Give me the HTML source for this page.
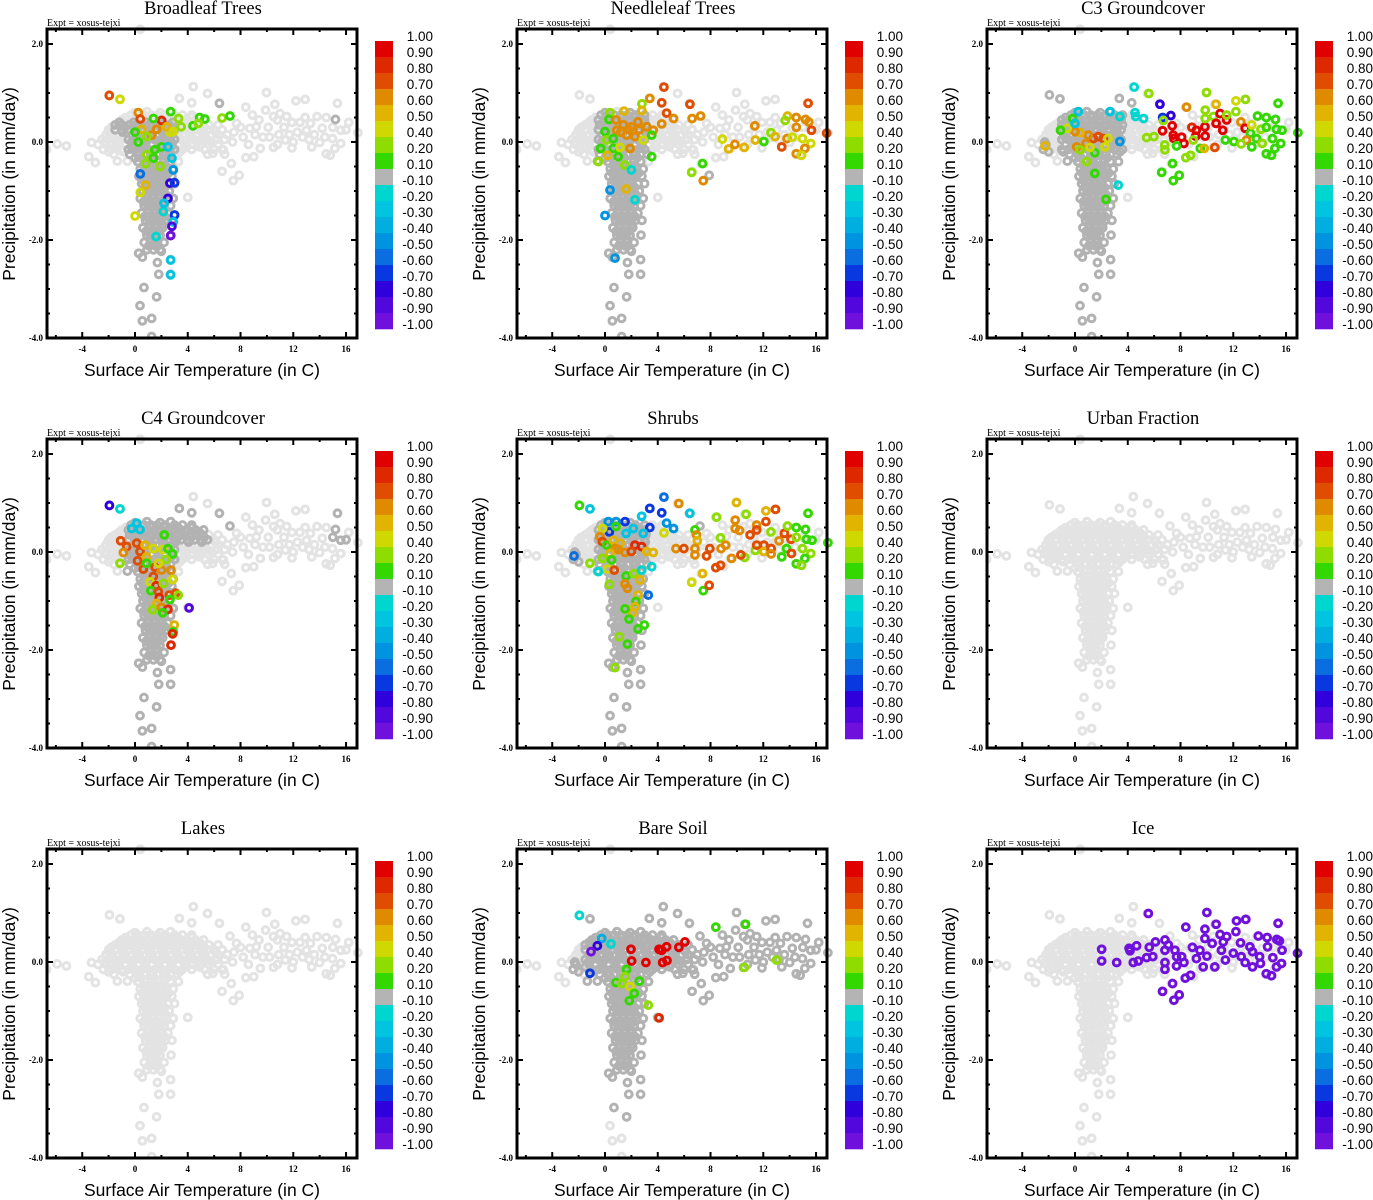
<!DOCTYPE html>
<html><head><meta charset="utf-8">
<style>
html,body{margin:0;padding:0;background:#fff;}
body{width:1373px;height:1200px;overflow:hidden;position:relative;}
svg{position:absolute;left:0;top:0;}
</style></head>
<body>
<svg id="fig" width="1373" height="1200" xmlns="http://www.w3.org/2000/svg"></svg>
<script>
// ---------- DATA ----------
const panelTitles = ["Broadleaf Trees","Needleleaf Trees","C3 Groundcover","C4 Groundcover","Shrubs","Urban Fraction","Lakes","Bare Soil","Ice"];
const xTicks = [-4,0,4,8,12,16];
const yTicks = [2.0,0.0,-2.0,-4.0];
const cbLabels = ["1.00","0.90","0.80","0.70","0.60","0.50","0.40","0.20","0.10","-0.10","-0.20","-0.30","-0.40","-0.50","-0.60","-0.70","-0.80","-0.90","-1.00"];
const cbEdges = [1.0,0.9,0.8,0.7,0.6,0.5,0.4,0.2,0.1,-0.1,-0.2,-0.3,-0.4,-0.5,-0.6,-0.7,-0.8,-0.9,-1.0];
const cbColors = ["#e00000","#de2800","#e04c00","#e08a00","#e0b400","#cfd800","#8edc00","#33d800","#b4b4b4","#00d6d0","#00c4e0","#00aee0","#0094e0","#0a6ee0","#0a38e0","#3000dc","#5208dc","#7010dc"];

// shared cloud of background points [x,y]
const cloudPts = [
[-1.94,0.96],[-1.14,0.88],[4.42,1.13],[5.5,0.99],[9.97,1.01],[12.2,0.84],[12.9,0.87],[15.35,0.79],[3.36,0.89],[4.3,0.8],[6.4,0.79],[8.4,0.71],[10.6,0.77],
[-5.9,-0.04],[-5.2,-0.08],[-6.7,-0.15],[-3.3,-0.01],[-3.5,-0.3],[-3.0,-0.42],[-1.34,-0.39],[-0.58,-0.39],[6.6,-0.6],[7.45,-0.79],[7.9,-0.68],[4.0,-1.13],
[2.73,-1.9],[2.7,-2.4],[2.7,-2.7],[1.8,-2.7],[1.7,-2.46],[0.68,-2.97],[1.64,-3.16],[0.38,-3.34],[0.56,-3.65],[1.26,-3.6],[1.26,-3.97],[0.28,-2.27],[0.56,-2.35],[2.0,-2.23],[0.4,2.3],
[13.8,0.52],[14.5,0.5],[15.2,0.46],[15.6,0.24],[14.97,0.07],[15.6,-0.03],[15.15,-0.13],[14.5,-0.24],[14.8,-0.27],[13.4,-0.1],[14.0,-0.01],[12.0,0.0],[11.4,0.04],[12.5,0.4],[13.0,0.24],[11.5,0.52],[11.0,0.58],[10.5,0.52],[9.9,0.65],[9.2,0.31],[8.7,0.28],[9.5,-0.13],[10.5,-0.11],[9.0,-0.3],[8.4,-0.32],[7.3,-0.44],[9.7,0.1],[6.7,-0.16],[5.9,-0.23],[7.7,0.38],[7.2,0.53],[16.9,0.19],[12.3,0.2],[10.1,0.3],[11.9,0.4],[14.2,0.28],[13.3,0.38],[8.2,0.1],[7.4,0.0],[10.9,0.15],
[10.8,0.45],[11.3,0.3],[11.7,0.15],[12.7,0.1],[13.6,0.15],[14.4,0.1],[12.9,0.5],[13.2,0.05],[10.2,0.1],[9.4,0.45],[8.9,0.55],[8.0,0.3],[7.5,0.2],[8.6,-0.05],[9.1,0.15],[10.8,-0.05],[11.9,-0.12],[15.0,0.3],[16.2,0.4],[16.0,0.25],
[-0.3,0.55],[0.2,0.55],[0.7,0.55],[1.2,0.55],[1.7,0.55],[2.3,0.55],[3.0,0.55],[3.6,0.55],[4.3,0.55],
[-1.0,0.45],[-0.5,0.45],[0,0.45],[0.5,0.45],[1.0,0.45],[1.5,0.45],[2.0,0.45],[2.5,0.45],[3.0,0.45],[3.5,0.45],[4.0,0.45],[4.6,0.45],[5.2,0.45],
[-1.5,0.35],[-1.0,0.35],[-0.4,0.35],[0.1,0.35],[0.6,0.35],[1.1,0.35],[1.6,0.35],[2.1,0.35],[2.6,0.35],[3.1,0.35],[3.6,0.35],[4.1,0.35],[4.6,0.35],[5.1,0.35],[5.6,0.35],[6.3,0.35],
[-2.0,0.25],[-1.5,0.25],[-1.0,0.25],[-0.5,0.25],[0,0.25],[0.5,0.25],[1.0,0.25],[1.5,0.25],[2.0,0.25],[2.5,0.25],[3.0,0.25],[3.5,0.25],[4.0,0.25],[4.5,0.25],[5.0,0.25],[5.5,0.25],[6.0,0.25],[6.6,0.25],
[-2.2,0.15],[-1.7,0.15],[-1.2,0.15],[-0.7,0.15],[-0.2,0.15],[0.3,0.15],[0.8,0.15],[1.3,0.15],[1.8,0.15],[2.3,0.15],[2.8,0.15],[3.3,0.15],[3.8,0.15],[4.3,0.15],[4.8,0.15],[5.3,0.15],[5.8,0.15],[6.3,0.15],[7.0,0.15],
[-2.5,0.05],[-2.0,0.05],[-1.5,0.05],[-1.0,0.05],[-0.5,0.05],[0,0.05],[0.5,0.05],[1.0,0.05],[1.5,0.05],[2.0,0.05],[2.5,0.05],[3.0,0.05],[3.5,0.05],[4.0,0.05],[4.5,0.05],[5.0,0.05],[5.5,0.05],[6.2,0.05],[6.8,0.05],
[-2.8,-0.05],[-2.2,-0.05],[-1.7,-0.05],[-1.2,-0.05],[-0.7,-0.05],[-0.2,-0.05],[0.3,-0.05],[0.8,-0.05],[1.3,-0.05],[1.8,-0.05],[2.3,-0.05],[2.8,-0.05],[3.3,-0.05],[3.8,-0.05],[4.4,-0.05],[5.0,-0.05],[5.6,-0.05],[6.3,-0.05],
[-2.4,-0.15],[-1.8,-0.15],[-1.0,-0.15],[-0.5,-0.15],[0,-0.15],[0.5,-0.15],[1.0,-0.15],[1.5,-0.15],[2.0,-0.15],[2.5,-0.15],[3.0,-0.15],[3.6,-0.15],[4.3,-0.15],[5.3,-0.15],[6.0,-0.15],[6.6,-0.15],
[-1.6,-0.25],[-0.4,-0.25],[0.2,-0.25],[0.7,-0.25],[1.2,-0.25],[1.7,-0.25],[2.2,-0.25],[2.7,-0.25],[3.2,-0.25],[5.5,-0.25],[6.8,-0.25],
[0.0,0.6],[0.9,0.62],[1.9,0.6],[2.7,0.62],[-0.7,0.5],[0.25,0.5],[1.25,0.5],[2.25,0.5],[3.25,0.5],[4.3,0.5],[-1.2,0.4],[-0.1,0.4],[0.85,0.4],[1.85,0.4],[2.85,0.4],[3.85,0.4],[4.9,0.4],[-1.8,0.3],[-0.75,0.3],[0.25,0.3],[1.25,0.3],[2.25,0.3],[3.25,0.3],[4.25,0.3],[5.25,0.3],[-2.0,0.2],[-0.95,0.2],[0.05,0.2],[1.05,0.2],[2.05,0.2],[3.05,0.2],[4.05,0.2],[5.05,0.2],[6.1,0.2],[-1.75,0.1],[-0.75,0.1],[0.25,0.1],[1.25,0.1],[2.25,0.1],[3.25,0.1],[4.25,0.1],[5.25,0.1],[-2.3,0.0],[-1.25,0.0],[-0.25,0.0],[0.75,0.0],[1.75,0.0],[2.75,0.0],[3.75,0.0],[4.75,0.0],[5.8,0.0],[-1.5,-0.1],[-0.25,-0.1],[0.75,-0.1],[1.75,-0.1],[2.75,-0.1],[3.9,-0.1],[4.9,-0.1],[-2.0,-0.2],[-0.9,-0.2],[0.25,-0.2],[1.25,-0.2],[2.25,-0.2],[3.4,-0.2],[0.45,-0.32],[1.45,-0.32],[2.45,-0.32],[0.0,-0.33],
[0.2,-0.4],[0.7,-0.4],[1.2,-0.4],[1.7,-0.4],[2.2,-0.4],[2.7,-0.4],[3.3,-0.4],
[0.4,-0.55],[0.9,-0.55],[1.4,-0.55],[1.9,-0.55],[2.4,-0.55],[2.9,-0.55],
[0.3,-0.7],[0.8,-0.7],[1.3,-0.7],[1.8,-0.7],[2.3,-0.7],[2.8,-0.7],
[0.5,-0.85],[1.0,-0.85],[1.5,-0.85],[2.0,-0.85],[2.5,-0.85],[3.0,-0.85],
[0.6,-1.0],[1.1,-1.0],[1.6,-1.0],[2.1,-1.0],[2.6,-1.0],
[0.4,-1.15],[0.9,-1.15],[1.4,-1.15],[1.9,-1.15],[2.4,-1.15],[2.9,-1.15],
[0.7,-1.3],[1.2,-1.3],[1.7,-1.3],[2.2,-1.3],[2.7,-1.3],
[0.5,-1.45],[1.0,-1.45],[1.5,-1.45],[2.0,-1.45],[2.5,-1.45],
[0.8,-1.6],[1.3,-1.6],[1.8,-1.6],[2.3,-1.6],[2.8,-1.6],
[0.6,-1.75],[1.1,-1.75],[1.6,-1.75],[2.1,-1.75],
[0.9,-1.9],[1.4,-1.9],[1.9,-1.9],
[0.7,-2.05],[1.2,-2.05],[1.7,-2.05],[2.2,-2.05],
[0.9,-2.2],[1.4,-2.2],[1.9,-2.2],
[0.65,-0.48],[1.15,-0.48],[1.65,-0.48],[2.15,-0.48],[0.55,-0.63],[1.05,-0.63],[1.55,-0.63],[2.05,-0.63],[2.55,-0.63],[0.6,-0.78],[1.1,-0.78],[1.6,-0.78],[2.1,-0.78],[0.75,-0.93],[1.25,-0.93],[1.75,-0.93],[2.25,-0.93],[0.85,-1.08],[1.35,-1.08],[1.85,-1.08],[2.35,-1.08],[0.65,-1.22],[1.15,-1.22],[1.65,-1.22],[2.15,-1.22],[0.95,-1.38],[1.45,-1.38],[1.95,-1.38],[0.75,-1.52],[1.25,-1.52],[1.75,-1.52],[2.25,-1.52],[1.05,-1.68],[1.55,-1.68],[2.05,-1.68],[0.85,-1.82],[1.35,-1.82],[1.85,-1.82],[1.15,-1.98],[1.65,-1.98],[1.05,-2.12],[1.55,-2.12]
];

// per-panel boxes [xmin,xmax,ymin,ymax] whose cloud points have values in (-0.1,0.1) (dark grey)
const greyBoxes = [
 [[-0.5,3.0,-4.1,0.4],[6.3,6.7,0.7,0.9],[15.2,15.5,0.3,0.5],[-1.5,0.5,0.2,0.4]],
 [[-0.6,3.2,-4.1,0.6],[7.7,8.1,-0.75,-0.6]],
 [[-1.0,3.6,-4.1,0.8],[-2.0,-1.0,0.8,1.0],[-2.6,-2.0,-0.2,0.0],[3.2,5.6,0.7,0.95]],
 [[-0.6,3.0,-4.1,0.8],[3.0,5.5,0.2,0.9],[6.3,7.5,0.4,0.9],[15.0,16.0,0.2,0.9],[13.5,14.0,0.2,0.35]],
 [[-0.6,3.2,-4.1,0.6],[-2.6,-2.0,-0.2,0.0],[6.3,7.3,0.4,0.85]],
 [],
 [],
 [[-1.5,17,-3.3,1.2],[-2.6,-2.0,-0.2,0.0],[1.5,1.7,-3.3,-3.1]],
 []
];

// colored points per panel: [x, y, value]
const ptsBroadleaf = [[-1.95,0.95,0.75],[-1.14,0.87,0.45],[0.25,0.6,0.65],[0.4,0.47,0.75],[2.02,0.44,0.8],[1.64,0.26,0.6],[1.26,0.14,0.65],[0.5,0.26,0.55],[0,0.2,0.15],[0.25,0.0,0.15],[0.9,0.11,0.3],[1.4,0.48,0.15],[2.7,0.62,0.15],[3.3,0.48,0.3],[3.5,0.31,0.3],[2.65,0.2,0.45],[2.4,0.31,0.55],[2.9,0.21,0.45],[4.4,0.33,0.15],[4.9,0.5,0.15],[5.3,0.47,0.15],[4.8,0.38,0.3],[6.6,0.49,0.3],[7.2,0.53,0.15],[0.9,-0.26,0.3],[1.4,-0.33,0.15],[1.9,-0.5,0.3],[0.8,-0.44,0.3],[1.5,-0.16,0.15],[2.02,-0.1,0.15],[0.4,-0.65,-0.55],[0.8,-0.88,0.55],[0.4,-1.03,0.45],[0,-1.51,0.45],[2.5,-0.1,-0.25],[2.8,-0.33,-0.3],[2.9,-0.57,-0.5],[2.65,-0.84,-0.75],[3.0,-0.83,-0.7],[2.5,-1.15,-0.75],[2.15,-1.42,-0.2],[3.0,-1.49,-0.7],[2.9,-1.63,-0.3],[2.8,-1.72,-0.85],[2.7,-1.91,-0.95],[2.7,-2.41,-0.25],[2.7,-2.71,-0.25],[2.2,-1.25,-0.25],[1.6,-1.93,-0.2]];
const ptsNeedleleaf = [[4.47,1.12,0.75],[3.4,0.89,0.65],[4.3,0.8,0.75],[6.44,0.77,0.75],[4.67,0.59,0.75],[5.2,0.48,0.65],[4.3,0.37,0.65],[6.6,0.48,0.65],[7.25,0.53,0.65],[1.44,0.63,0.55],[2.8,0.78,0.3],[2.8,0.64,0.55],[0.38,0.6,0.3],[0.3,0.46,0.15],[0.83,0.45,0.65],[1.39,0.35,0.65],[2.0,0.31,0.65],[2.5,0.41,0.65],[3.16,0.31,0.65],[3.66,0.24,0.65],[1.64,0.14,0.65],[2.27,0.11,0.65],[0.88,0.24,0.65],[1.2,0.2,0.65],[1.8,0.25,0.65],[2.6,0.25,0.65],[0,0.21,0.15],[0.13,0.04,0.3],[-0.33,-0.13,0.15],[0.63,-0.13,0.15],[1.0,-0.3,0.15],[0.18,-0.27,0.55],[1.5,-0.47,0.3],[-0.5,-0.4,0.3],[3.54,-0.3,0.15],[0.63,0.07,0.15],[1.14,-0.11,0.45],[1.9,-0.13,0.65],[2.9,0.04,0.45],[3.54,0.14,0.15],[1.6,-0.96,0.5],[0,-1.5,-0.5],[0.38,-0.98,-0.5],[0.76,-2.37,-0.5],[2.27,-1.18,-0.2],[2.0,-0.57,-0.2],[7.4,-0.44,0.15],[6.57,-0.62,0.3],[7.45,-0.79,0.65],[8.9,0.06,0.45],[9.37,-0.14,0.55],[9.85,-0.05,0.65],[10.56,-0.11,0.55],[11.36,0.33,0.65],[11.4,0.04,0.55],[12.05,0.01,0.15],[12.58,0.19,0.3],[12.9,0.11,0.55],[13.4,-0.1,0.75],[13.8,0.07,0.65],[13.84,0.53,0.5],[13.66,0.44,0.3],[14.5,0.5,0.65],[15.2,0.46,0.65],[15.4,0.79,0.75],[15.45,0.41,0.65],[15.66,0.24,0.75],[14.5,0.3,0.65],[14.97,0.07,0.45],[14.2,0.1,0.45],[15.6,-0.03,0.45],[15.15,-0.13,0.65],[14.5,-0.24,0.65],[14.9,-0.27,0.45],[16.8,0.18,0.75]];
const ptsC3 = [[4.49,1.12,-0.2],[5.6,0.99,0.3],[6.44,0.77,-0.8],[6.64,0.5,-0.7],[7.27,0.54,-0.75],[6.7,0.44,0.3],[6.64,0.23,0.95],[7.37,0.33,0.95],[7.45,0.14,0.95],[7.5,0.07,0.95],[8.08,0.1,0.95],[8.26,-0.03,0.95],[7.7,-0.08,0.15],[6.8,-0.06,0.3],[5.43,0.09,0.3],[5.98,0.11,0.3],[6.82,-0.16,0.3],[7.4,-0.44,0.15],[6.57,-0.62,0.15],[7.45,-0.79,0.15],[7.9,-0.68,0.15],[8.4,-0.32,0.3],[8.76,-0.27,0.3],[8.46,0.71,0.65],[8.86,0.3,0.85],[9.2,0.24,0.95],[9.15,0.12,0.95],[9.87,0.12,0.95],[9.85,0.31,0.95],[8.97,0.04,0.3],[9.5,-0.13,0.15],[9.8,-0.13,0.55],[10.6,-0.11,0.75],[9.97,1.01,0.3],[9.87,0.65,0.3],[9.87,0.48,0.3],[10.5,0.52,0.3],[10.7,0.77,0.55],[11.0,0.58,0.95],[10.7,0.38,0.95],[11.5,0.45,0.95],[11.5,0.55,0.3],[11.2,0.24,0.95],[11.4,0.04,0.15],[12.05,0.01,0.15],[12.2,0.84,0.45],[12.93,0.87,0.3],[12.2,0.62,0.3],[12.58,0.41,0.65],[12.9,0.28,0.95],[13.3,0.18,0.15],[13.0,0.04,0.65],[12.6,-0.04,0.3],[13.4,0.35,0.45],[13.84,0.53,0.15],[14.1,0.26,0.3],[14.5,0.5,0.15],[14.5,0.3,0.15],[13.76,0.07,0.15],[14.2,-0.03,0.3],[13.4,-0.1,0.15],[14.97,0.07,0.15],[15.2,0.46,0.15],[15.27,0.26,0.15],[15.7,0.24,0.15],[15.4,0.79,0.15],[15.6,-0.03,0.15],[15.15,-0.13,0.15],[14.5,-0.24,0.15],[14.9,-0.27,0.15],[16.9,0.19,0.15],[1.39,0.07,0.75],[1.77,0.11,0.75],[2.15,0.07,0.75],[2.5,0.07,0.45],[1.0,0.14,0.65],[0.38,0.19,0.55],[0,0.21,0.65],[-0.58,0.28,0.45],[-1.1,0.24,0.15],[-0.18,0.48,0.15],[0.13,-0.1,0.65],[0.83,-0.03,0.65],[0.88,-0.4,0.3],[0.38,-0.16,0.3],[1.5,-0.22,0.15],[1.14,-0.11,0.45],[2.27,-0.1,0.45],[-2.27,-0.08,0.55],[1.5,-0.64,0.15],[2.35,-1.17,0.15],[0.25,0.62,-0.3],[2.65,0.62,-0.25],[3.4,0.52,-0.2],[4.55,0.6,-0.2],[4.6,0.52,-0.2],[5.2,0.48,-0.2],[3.4,0.01,-0.5],[3.28,-0.88,-0.2],[0,0.38,-0.25]];
const ptsC4 = [[-1.94,0.95,-0.75],[-1.14,0.88,-0.2],[-0.25,0.48,-0.3],[0.13,0.59,-0.25],[0.38,0.46,-0.25],[2.22,0.35,0.15],[-1.09,0.23,0.75],[-0.63,0.11,0.75],[-0.88,-0.01,0.65],[-1.14,-0.23,0.3],[0.13,0.18,0.75],[0.38,0.01,0.75],[0.2,-0.18,0.75],[0.76,0.14,0.55],[1.39,0.07,0.45],[2.1,0.05,0.45],[2.5,0.07,0.15],[2.85,-0.04,0.15],[2.35,-0.15,0.3],[0.88,-0.1,0.55],[0.63,-0.35,0.75],[1.52,-0.31,0.75],[2.0,-0.37,0.65],[2.73,-0.37,0.65],[2.85,-0.56,0.45],[1.39,-0.5,0.75],[1.14,-0.61,0.45],[1.6,-0.69,0.8],[2.15,-0.64,0.3],[1.2,-0.79,0.15],[1.77,-0.81,0.75],[1.84,-0.93,0.8],[2.6,-0.88,0.75],[3.08,-0.84,0.75],[3.28,-0.88,0.3],[2.65,-0.97,0.15],[1.64,-1.05,0.55],[1.34,-1.18,0.3],[2.0,-1.13,0.65],[2.5,-1.17,0.8],[2.1,-1.24,0.15],[4.1,-1.14,-0.85],[2.98,-1.49,0.55],[2.9,-1.63,0.15],[2.85,-1.67,0.8],[2.73,-1.9,0.85],[0.88,-0.23,0.15],[1.77,-0.23,0.45]];
const ptsShrubs = [[-1.94,0.95,0.15],[-1.14,0.88,-0.25],[4.47,1.12,-0.6],[4.3,0.8,-0.7],[3.4,0.89,-0.65],[2.78,0.73,-0.25],[5.6,0.99,0.65],[6.44,0.79,-0.25],[4.67,0.59,-0.5],[5.2,0.48,-0.5],[4.47,0.39,0.45],[3.4,0.5,-0.7],[1.52,0.62,-0.7],[0.25,0.62,-0.5],[0.83,0.62,-0.5],[0.33,0.41,-0.7],[0.83,0.52,0.15],[-0.18,0.48,0.45],[1.6,0.38,-0.3],[2.15,0.48,-0.3],[2.9,0.38,-0.3],[-0.38,0.31,0.65],[-0.2,0.21,0.75],[0.13,0.14,0.15],[0.63,0.24,0.55],[1.14,0.18,0.55],[0.76,0.07,0.65],[1.0,0.05,0.65],[1.52,-0.01,0.65],[2.27,0.14,0.85],[2.78,0.11,0.8],[2.0,0.01,0.75],[3.16,0.01,0.55],[3.66,-0.01,0.55],[0.38,-0.03,0.55],[-2.35,-0.08,-0.55],[-1.14,-0.23,0.3],[-0.5,-0.4,-0.2],[0.2,-0.35,0.45],[0.7,-0.37,0.75],[-0.18,-0.13,0.3],[0.5,-0.16,0.15],[1.6,-0.49,0.15],[2.2,-0.44,0.3],[2.78,-0.37,-0.2],[3.54,-0.3,-0.2],[2.65,-0.57,0.55],[0.33,-0.66,0.3],[1.52,-0.65,0.65],[1.7,-0.74,0.65],[2.5,-0.88,0.5],[3.28,-0.88,-0.6],[2.35,-1.01,0.15],[2.27,-1.12,0.5],[2.1,-1.24,0.55],[1.52,-1.16,0.15],[1.82,-1.37,0.15],[2.98,-1.49,0.15],[2.5,-1.57,0.15],[1.09,-1.73,0.3],[1.7,-1.88,0.15],[0.76,-2.36,0.3],[5.38,0.07,0.65],[5.98,0.07,0.75],[6.82,0.45,0.15],[6.94,0.35,0.65],[7.0,0.23,0.55],[6.82,0.07,0.65],[6.82,-0.06,0.65],[7.7,-0.08,0.75],[7.95,0.07,0.75],[7.4,-0.44,0.5],[6.57,-0.62,0.45],[7.45,-0.79,0.15],[7.9,-0.68,0.75],[8.4,-0.32,0.75],[8.76,-0.27,0.75],[8.46,0.71,0.3],[8.76,0.29,0.3],[8.8,0.07,0.65],[9.15,0.14,0.65],[9.6,-0.13,0.65],[9.97,1.01,0.55],[9.87,0.65,0.65],[9.87,0.48,0.65],[10.2,0.44,0.65],[10.6,-0.11,0.3],[10.3,-0.06,0.75],[10.7,0.77,0.3],[11.0,0.35,0.75],[11.4,0.03,0.3],[11.5,0.14,0.75],[11.5,0.55,0.65],[11.5,0.45,0.75],[12.2,0.84,0.55],[12.93,0.87,0.75],[12.2,0.62,0.75],[12.58,0.41,0.3],[12.05,0.14,0.75],[12.05,0.01,0.55],[12.6,0.07,0.75],[12.6,-0.04,0.65],[13.2,0.23,0.65],[13.6,0.38,0.75],[13.84,0.53,0.3],[14.1,0.26,0.75],[13.76,0.07,0.15],[14.14,-0.03,0.75],[13.4,-0.1,0.15],[14.5,0.5,0.15],[14.5,0.3,0.3],[14.97,0.07,0.3],[15.2,0.46,0.15],[15.27,0.26,0.15],[15.7,0.24,0.15],[15.4,0.79,0.15],[15.6,-0.03,0.3],[15.15,-0.13,0.15],[14.5,-0.24,0.15],[14.9,-0.27,0.3],[16.9,0.19,0.15]];
const ptsUrban = [];
const ptsLakes = [];
const ptsBareSoil = [[-1.94,0.95,-0.2],[-0.25,0.48,-0.4],[0.45,0.37,-0.2],[-0.58,0.33,-0.75],[-1.06,0.21,-0.95],[-1.14,-0.23,-0.65],[1.97,0.26,0.95],[2.02,0.02,0.95],[3.1,-0.01,0.95],[4.1,0.26,0.95],[4.3,0.24,0.95],[4.67,0.31,0.95],[4.37,-0.01,0.95],[4.7,0.03,0.95],[5.6,0.3,0.95],[6.06,0.41,0.95],[1.64,-0.15,0.15],[1.52,-0.3,0.3],[0.83,-0.42,0.15],[1.26,-0.44,0.3],[1.9,-0.5,0.45],[2.6,-0.39,0.15],[2.22,-0.64,0.15],[1.84,-0.79,0.15],[3.28,-0.88,0.3],[4.1,-1.14,0.85],[8.4,0.71,0.15],[10.66,0.77,0.15],[10.56,-0.11,0.3],[13.0,0.04,0.3]];
const ptsIce = [[2.02,0.26,-0.95],[2.02,0.02,-0.95],[3.16,-0.01,-0.95],[4.1,0.28,-0.95],[4.17,0.23,-0.95],[4.67,0.33,-0.95],[4.42,-0.01,-0.95],[4.8,0.02,-0.95],[5.56,0.99,-0.95],[5.63,0.3,-0.95],[5.43,0.09,-0.95],[6.1,0.41,-0.95],[5.9,0.11,-0.95],[6.64,-0.6,-0.95],[6.82,0.45,-0.95],[6.82,0.24,-0.95],[6.82,-0.01,-0.95],[6.82,-0.15,-0.95],[7.07,0.35,-0.95],[7.4,-0.44,-0.95],[7.5,-0.78,-0.95],[7.9,-0.67,-0.95],[7.58,0.24,-0.95],[7.7,0.11,-0.95],[7.7,-0.08,-0.95],[8.08,0.11,-0.95],[8.26,-0.01,-0.95],[8.36,-0.33,-0.95],[8.76,-0.27,-0.95],[8.4,0.71,-0.95],[8.9,0.3,-0.95],[9.2,0.07,-0.95],[9.47,0.24,-0.95],[9.72,-0.1,-0.95],[9.85,0.67,-0.95],[10.0,1.01,-0.95],[9.85,0.48,-0.95],[10.0,0.12,-0.95],[10.4,0.38,-0.95],[10.6,-0.1,-0.95],[10.7,0.77,-0.95],[11.0,0.56,-0.95],[11.1,0.24,-0.95],[11.5,0.52,-0.95],[11.4,0.04,-0.95],[12.0,0.18,-0.95],[12.2,0.62,-0.95],[12.25,0.84,-0.95],[12.95,0.87,-0.95],[12.55,0.39,-0.95],[12.6,0.11,-0.95],[12.9,-0.01,-0.95],[13.46,-0.1,-0.95],[13.9,0.53,-0.95],[14.0,0.11,-0.95],[14.06,-0.03,-0.95],[14.57,0.5,-0.95],[14.6,0.31,-0.95],[14.5,-0.24,-0.95],[14.9,-0.28,-0.95],[15.0,0.09,-0.95],[15.4,0.79,-0.95],[15.3,0.46,-0.95],[15.5,0.43,-0.95],[15.28,-0.1,-0.95],[15.66,-0.03,-0.95],[15.7,0.24,-0.95],[16.87,0.18,-0.95],[13.26,0.31,-0.95],[11.24,0.41,-0.95],[13.46,0.21,-0.95]];
const panelPts = [ptsBroadleaf,ptsNeedleleaf,ptsC3,ptsC4,ptsShrubs,ptsUrban,ptsLakes,ptsBareSoil,ptsIce];

// ---------- DRAWING ----------
const NS = "http://www.w3.org/2000/svg";
const fig = document.getElementById('fig');
function mk(tag, attrs, parent){ const e=document.createElementNS(NS,tag); for(const k in attrs) e.setAttribute(k,attrs[k]); (parent||fig).appendChild(e); return e; }
function colorFor(v){ for(let i=0;i<cbColors.length;i++){ if(v<=cbEdges[i] && v>=cbEdges[i+1]) return cbColors[i]; } return cbColors[cbColors.length-1]; }
function inBoxes(p,boxes){ return boxes.some(b=>p[0]>=b[0]&&p[0]<=b[1]&&p[1]>=b[2]&&p[1]<=b[3]); }

const SERIF='"Liberation Serif", serif', SANS='"Liberation Sans", sans-serif';
const MR = 3.4, MW = 3.0;

panelTitles.forEach((title, idx) => {
  const ox = (idx%3)*470, oy = Math.floor(idx/3)*410;
  const g = mk('g', {transform:`translate(${ox},${oy})`});
  
  
  const L=47, R=357, T=29, B=338;
  const sx = x => 135 + 13.19*x;
  const sy = y => 142 - 49*y;

  const t = mk('text',{x:203,y:14,'text-anchor':'middle','font-family':SERIF,'font-size':18.5,fill:'#000'},g);
  t.textContent = title;
  
  
  const ex = mk('text',{x:47,y:26,'font-family':SERIF,'font-size':10,fill:'#000'},g);
  ex.textContent = 'Expt = xosus-tejxi';
  
  

  const clip = mk('clipPath',{id:'clip'+idx},g);
  mk('rect',{x:L,y:T-8,width:R-L+12,height:B-T+8},clip);
  const pg = mk('g',{'clip-path':`url(#clip${idx})`},g);
  
  

  const boxes = greyBoxes[idx];
  cloudPts.forEach(p => {
    if(inBoxes(p,boxes)) return;
    const c = mk('circle',{cx:sx(p[0]),cy:sy(p[1]),r:MR,fill:'none',stroke:'#e3e3e3','stroke-width':MW},pg);
    
    
  });
  cloudPts.forEach(p => {
    if(!inBoxes(p,boxes)) return;
    const c = mk('circle',{cx:sx(p[0]),cy:sy(p[1]),r:MR,fill:'none',stroke:'#b2b2b2','stroke-width':MW},pg);
    
    
  });
  panelPts[idx].forEach(p => {
    const c = mk('circle',{cx:sx(p[0]),cy:sy(p[1]),r:MR,fill:'none',stroke:colorFor(p[2]),'stroke-width':MW},pg);
    
    
  });

  const fr = mk('rect',{x:L,y:T,width:R-L,height:B-T,fill:'none',stroke:'#000','stroke-width':3},g);
  
  
  for(let x=-6;x<=16;x+=2){
    const px=sx(x), len = (x%4===0)?6:3;
    mk('line',{x1:px,y1:B,x2:px,y2:B-len,stroke:'#000','stroke-width':2},g);
    mk('line',{x1:px,y1:T,x2:px,y2:T+len,stroke:'#000','stroke-width':2},g);
  }
  for(let k=-8;k<=4;k++){
    const y=k*0.5, py=sy(y); if(py<T||py>B) continue;
    const len = (k%4===0)?6:3;
    mk('line',{x1:L,y1:py,x2:L+len,y2:py,stroke:'#000','stroke-width':2},g);
    mk('line',{x1:R,y1:py,x2:R-len,y2:py,stroke:'#000','stroke-width':2},g);
  }
  xTicks.forEach(v=>{
    const tx = mk('text',{x:sx(v),y:352,'text-anchor':'middle','font-family':SERIF,'font-size':9,'font-weight':'bold',fill:'#000'},g);
    tx.textContent = String(v);
    
    
  });
  yTicks.forEach(v=>{
    const ty = mk('text',{x:43,y:sy(v)+3,'text-anchor':'end','font-family':SERIF,'font-size':9,'font-weight':'bold',fill:'#000'},g);
    ty.textContent = v.toFixed(1);
    
    
  });
  const xt = mk('text',{x:202,y:376,'text-anchor':'middle','font-family':SANS,'font-size':17.5,fill:'#000'},g);
  xt.textContent = 'Surface Air Temperature (in C)';
  
  
  const yt = mk('text',{x:0,y:0,transform:'translate(15,184) rotate(-90)','text-anchor':'middle','font-family':SANS,'font-size':17.5,fill:'#000'},g);
  yt.textContent = 'Precipitation (in mm/day)';
  
  

  const cb = mk('g',{},g);
  
  
  cbColors.forEach((c,i)=>{
    const r = mk('rect',{x:375,y:41+16*i,width:18,height:16.3,fill:c},cb);
    
    
  });
  cbLabels.forEach((lab,i)=>{
    const tl = mk('text',{x:433,y:41+16*i,'text-anchor':'end','font-family':SANS,'font-size':13.5,fill:'#000'},cb);
    tl.textContent = lab;
    
    
  });
});
</script>
</body></html>
